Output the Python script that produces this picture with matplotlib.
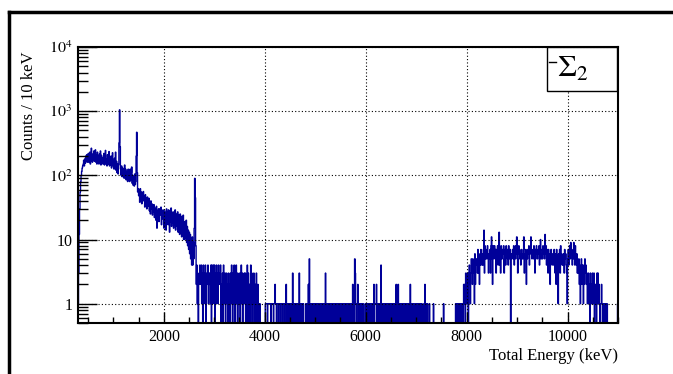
import numpy as np
import matplotlib
matplotlib.use('Agg')
import matplotlib.pyplot as plt
from matplotlib.ticker import FixedLocator, FixedFormatter, MultipleLocator, LogLocator, NullFormatter
from matplotlib.lines import Line2D
from matplotlib.patches import Rectangle

plt.rcParams['font.family'] = ['Liberation Serif', 'DejaVu Serif']
plt.rcParams['mathtext.fontset'] = 'stix'

E_MIN, E_MAX, BIN_WIDTH = 300, 11000, 10

# counts per 10 keV bin, 300 - 2690 keV (one row = 100 keV)
counts_continuum = [
    1, 3, 12, 30, 55, 80, 100, 115, 130, 140,
    150, 172, 140, 180, 155, 200, 165, 210, 160, 190,
    220, 160, 195, 230, 150, 185, 265, 170, 160, 215,
    175, 240, 165, 200, 250, 160, 210, 150, 230, 190,
    200, 150, 215, 165, 240, 145, 205, 160, 190, 150,
    170, 220, 145, 195, 245, 150, 180, 140, 210, 160,
    150, 235, 140, 185, 145, 200, 130, 175, 225, 140,
    170, 125, 185, 135, 230, 120, 165, 110, 150, 105,
    145, 320, 1050, 280, 125, 100, 140, 95, 130, 105,
    120, 90, 145, 100, 125, 85, 115, 95, 80, 125,
    95, 120, 80, 125, 85, 110, 135, 75, 100, 70,
    95, 68, 105, 72, 80, 200, 470, 110, 55, 62,
    48, 58, 38, 62, 45, 55, 36, 52, 42, 56,
    40, 48, 32, 50, 37, 44, 30, 46, 33, 40,
    44, 28, 38, 25, 40, 30, 36, 24, 34, 27,
    35, 22, 31, 26, 20, 33, 15, 28, 22, 30,
    19, 30, 24, 27, 32, 17, 28, 21, 29, 23,
    15, 28, 19, 26, 14, 30, 18, 27, 17, 29,
    25, 13, 28, 19, 31, 16, 26, 18, 27, 15,
    26, 17, 29, 14, 25, 20, 16, 27, 13, 24,
    21, 12, 25, 15, 23, 11, 20, 14, 24, 10,
    19, 10, 17, 12, 20, 9, 16, 8, 14, 7,
    13, 6, 12, 5, 10, 4, 11, 4, 9, 5,
    15, 90, 45, 8, 2, 4, 1, 3, 0, 2,
]

# counts per 10 keV bin from 2700 keV on, one base-36 digit per bin,
# one string per 1000 keV
counts_tail = [
    "2432413042 3140232413 2314043142 4031423142 3240213042 1302312031 2031420314 3024130213 2034130213 1302041302",
    "2041302130 1203102010 1000000000 0111101111 1101111011 2110111011 1011101110 1120101101 1010030101 0101001030",
    "0100101000 0100102050 1010110101 1011010110 0101101010 3101010110 1010110101 0110101101 1011010110 1101011010",
    "1010210153 1011201010 1010110001 0101101011 0110102011 1201011010 4101010110 1010100101 0101101010 2100201011",
    "0101010100 1010101020 0101011001 1010010101 0100010201 0010001000 0000100000 0000000000 0000100000 0000000000",
    "0000000010 0100100101 0101212031 2310342135 4253416245 5373625475 4647e38575 685365738b 5287586737 6847d47385",
    "5768357486 7548657065 675847586b 5368756475 657b365726 5768476b65 6758637685 576845a756 58675c6847 6375625764",
    "5647536275 4165738564 5463756431 5746859674 6597485463 4352413524 3142534231 2312031213 2130212031 3121011210",
    "1101110110 0000000000 0000000001",
]

y_ticks = [1, 10, 100, 1000, 10000]
y_tick_labels = ['1', '10', r'$10^{2}$', r'$10^{3}$', r'$10^{4}$']
x_ticks = [2000, 4000, 6000, 8000, 10000]

tail = [int(c, 36) for row in counts_tail for c in row.replace(' ', '')]
counts = np.array(counts_continuum + tail, dtype=float)
edges = E_MIN + BIN_WIDTH * np.arange(len(counts) + 1)
assert edges[-1] == E_MAX

W, H = 673, 374
fig = plt.figure(figsize=(W / 100, H / 100), dpi=100)
ax = fig.add_axes([78 / W, 1 - 323 / H, 540 / W, 276 / H])

ax.stairs(counts, edges, color='#000099', lw=1.0, baseline=None)

ax.set_yscale('log', nonpositive='clip')
ax.set_xlim(E_MIN, E_MAX)
ax.set_ylim(0.5, 1e4)

ax.yaxis.set_major_locator(FixedLocator(y_ticks))
ax.yaxis.set_major_formatter(FixedFormatter(y_tick_labels))
ax.yaxis.set_minor_locator(LogLocator(base=10, subs=np.arange(2, 10)))
ax.yaxis.set_minor_formatter(NullFormatter())
ax.xaxis.set_major_locator(FixedLocator(x_ticks))
ax.xaxis.set_minor_locator(MultipleLocator(500))

ax.tick_params(which='both', direction='in', top=False, right=False,
               labelsize=11.5, width=1, color='black')
ax.tick_params(axis='y', which='major', length=14, pad=4)
ax.tick_params(axis='y', which='minor', length=7)
ax.tick_params(axis='x', which='major', length=8, pad=4)
ax.tick_params(axis='x', which='minor', length=4)

ax.grid(True, which='major', color='black', ls=(0, (1, 2)), lw=0.8)
for sp in ax.spines.values():
    sp.set_linewidth(1.5)

fig.text(29 / W, 1 - 52 / H, 'Counts / 10 keV', rotation=90,
         ha='center', va='top', fontsize=12)
fig.text(618 / W, 1 - 356 / H, 'Total Energy (keV)',
         ha='right', va='center', fontsize=12)

# legend box in the top right corner
fig.patches.append(Rectangle((547 / W, 1 - 91 / H), 70 / W, 44 / H,
                             transform=fig.transFigure, facecolor='white',
                             edgecolor='black', lw=1, zorder=5))
fig.lines.append(Line2D([549 / W, 556 / W], [1 - 62 / H, 1 - 62 / H],
                        transform=fig.transFigure, color='black', lw=1, zorder=6))
fig.text(557 / W, 1 - 69 / H, r'$\Sigma_2$', ha='left', va='center',
         fontsize=22, zorder=6)

# canvas border
fig.lines.append(Line2D([9 / W, 9 / W], [0, 1 - 12 / H],
                        transform=fig.transFigure, color='black', lw=2.5))
fig.lines.append(Line2D([9 / W, 1], [1 - 12 / H, 1 - 12 / H],
                        transform=fig.transFigure, color='black', lw=2.5))

fig.savefig('out.png', dpi=100)
